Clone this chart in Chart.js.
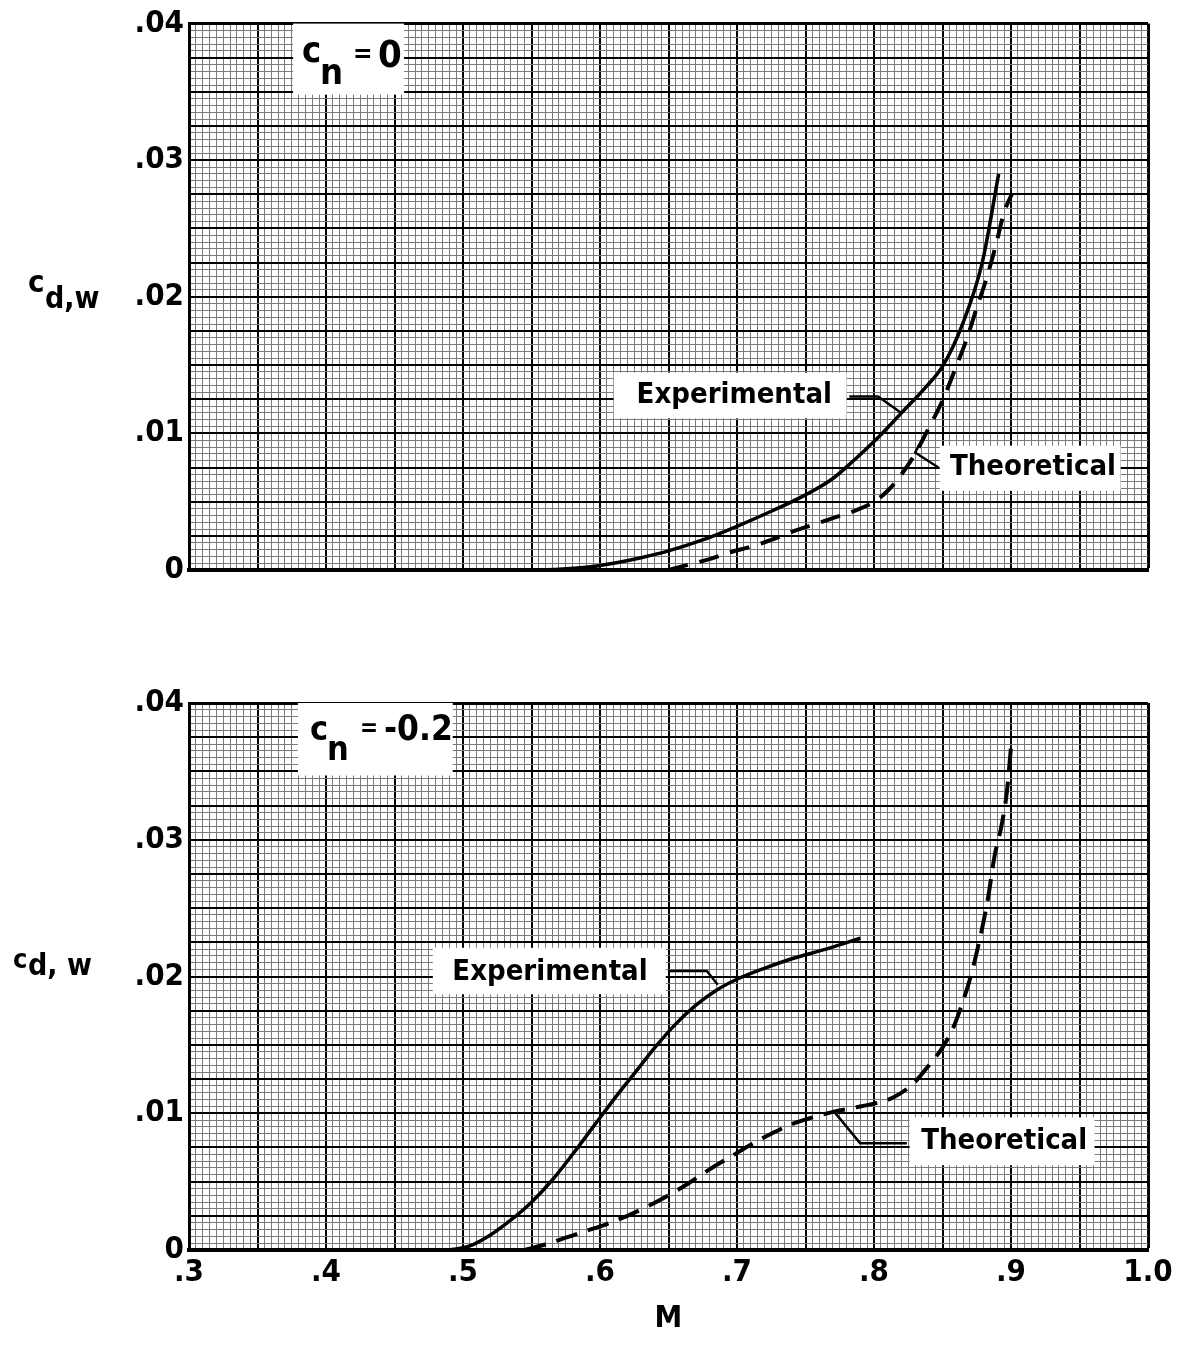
<!DOCTYPE html>
<html><head><meta charset="utf-8">
<script src="https://cdn.jsdelivr.net/npm/chart.js@4/dist/chart.umd.min.js"></script>
<style>
html,body{margin:0;padding:0;background:#fff;}
#wrap{position:relative;width:1180px;height:1354px;overflow:hidden;}
canvas{position:absolute;left:0;}
</style></head><body>
<div id="wrap">
<canvas id="cTop" width="1180" height="640" style="top:0px"></canvas>
<canvas id="cBot" width="1180" height="714" style="top:640px"></canvas>
</div>
<script>
const FONT = '"Liberation Sans Narrow","DejaVu Sans Condensed","Arial Narrow",sans-serif';
const W = 'bold ';

// ---- tick labels ----
const xTickLabels = ['.3', '.4', '.5', '.6', '.7', '.8', '.9', '1.0'];
const yTickLabels = ['0', '.01', '.02', '.03', '.04'];

// ---- top panel (c_n = 0) ----
const topExpM  = [0.55, 0.57, 0.59, 0.61, 0.63, 0.65, 0.675, 0.70, 0.725, 0.75, 0.77, 0.785, 0.803, 0.821, 0.837, 0.85, 0.865, 0.879, 0.891];
const topExpC  = [0, 0.00005, 0.0002, 0.0005, 0.0009, 0.0014, 0.0022, 0.0032, 0.0043, 0.0055, 0.0067, 0.0080, 0.0097, 0.0116, 0.0133, 0.0149, 0.0181, 0.0225, 0.0290];
const topTheoM = [0.65, 0.665, 0.68, 0.695, 0.71, 0.725, 0.74, 0.755, 0.77, 0.785, 0.80, 0.81, 0.82, 0.83, 0.84, 0.85, 0.86, 0.868, 0.875, 0.882, 0.889, 0.895, 0.901];
const topTheoC = [0, 0.0004, 0.0008, 0.0013, 0.0017, 0.0022, 0.0028, 0.0033, 0.0038, 0.0043, 0.0050, 0.0058, 0.0070, 0.0085, 0.0104, 0.0124, 0.0149, 0.0170, 0.0192, 0.0213, 0.0238, 0.0262, 0.0276];

// ---- bottom panel (c_n = -0.2) ----
const botExpM  = [0.49, 0.505, 0.52, 0.535, 0.55, 0.565, 0.58, 0.595, 0.61, 0.625, 0.64, 0.655, 0.67, 0.685, 0.70, 0.72, 0.74, 0.765, 0.79];
const botExpC  = [0, 0.0003, 0.0011, 0.0022, 0.0035, 0.0051, 0.0070, 0.0090, 0.0110, 0.0129, 0.0148, 0.0165, 0.0179, 0.0190, 0.0198, 0.0206, 0.0213, 0.0220, 0.0228];
const botTheoM = [0.545, 0.56, 0.575, 0.59, 0.605, 0.62, 0.635, 0.65, 0.665, 0.68, 0.695, 0.71, 0.725, 0.74, 0.755, 0.77, 0.785, 0.80, 0.815, 0.83, 0.84, 0.85, 0.858, 0.865, 0.87, 0.876, 0.883, 0.888, 0.893, 0.897, 0.90];
const botTheoC = [0, 0.0004, 0.0009, 0.0014, 0.0019, 0.0025, 0.0032, 0.0040, 0.0049, 0.0059, 0.0068, 0.0077, 0.0085, 0.0092, 0.0097, 0.0101, 0.0104, 0.0107, 0.0112, 0.0123, 0.0135, 0.0148, 0.0163, 0.0182, 0.0198, 0.0222, 0.0256, 0.0288, 0.0310, 0.0335, 0.0368];

function pts(xs, ys) { return xs.map((x, i) => ({x: x, y: ys[i]})); }
function isMult(v, s) { const q = v / s; return Math.abs(q - Math.round(q)) < 1e-6; }

const notesPlugin = {
  id: 'notes',
  beforeDatasetsDraw(chart, args, o) {
    const ctx = chart.ctx, xs = chart.scales.x, ys = chart.scales.y;
    ctx.save();
    ctx.fillStyle = '#fff';
    (o.boxes || []).forEach(b => {
      const x1 = xs.getPixelForValue(b.x0), x2 = xs.getPixelForValue(b.x1);
      const y1 = ys.getPixelForValue(b.y1), y2 = ys.getPixelForValue(b.y0);
      ctx.fillRect(x1, y1, x2 - x1, y2 - y1);
    });
    ctx.restore();
  },
  afterDatasetsDraw(chart, args, o) {
    const ctx = chart.ctx, xs = chart.scales.x, ys = chart.scales.y, ca = chart.chartArea;
    ctx.save();
    ctx.fillStyle = '#000';
    ctx.strokeStyle = '#000';
    ctx.lineWidth = 2.5;
    ctx.lineJoin = 'round';
    (o.leaders || []).forEach(l => {
      ctx.beginPath();
      l.forEach((p, i) => {
        const X = xs.getPixelForValue(p[0]), Y = ys.getPixelForValue(p[1]);
        if (i === 0) ctx.moveTo(X, Y); else ctx.lineTo(X, Y);
      });
      ctx.stroke();
    });
    ctx.textAlign = 'center';
    ctx.textBaseline = 'middle';
    (o.labels || []).forEach(t => {
      ctx.font = W + t.size + 'px ' + FONT;
      ctx.fillText(t.text, xs.getPixelForValue(t.x), ys.getPixelForValue(t.y));
    });
    ctx.textAlign = 'left';
    ctx.textBaseline = 'alphabetic';
    (o.rich || []).forEach(r => {
      let X0, Y0;
      if (r.px) { X0 = ca.left + r.px[0]; Y0 = ca.top + r.px[1]; }
      else { X0 = xs.getPixelForValue(r.x); Y0 = ys.getPixelForValue(r.y); }
      r.parts.forEach(p => {
        ctx.font = W + p.size + 'px ' + FONT;
        ctx.fillText(p.t, X0 + p.dx, Y0 + p.dy);
      });
    });
    ctx.restore();
  }
};

function makeChart(id, exp, theo, dash, notes, showX) {
  return new Chart(document.getElementById(id), {
    type: 'line',
    data: {
      datasets: [
        {data: exp, borderColor: '#000', borderWidth: 3.5, pointRadius: 0, fill: false, cubicInterpolationMode: 'monotone'},
        {data: theo, borderColor: '#000', borderWidth: 4, borderDash: dash, pointRadius: 0, fill: false, cubicInterpolationMode: 'monotone'}
      ]
    },
    options: {
      responsive: false, animation: false, devicePixelRatio: 1,
      layout: {padding: {left: 0, right: 32, top: showX ? 63 : 22, bottom: 0}},
      plugins: {legend: {display: false}, tooltip: {enabled: false}, notes: notes},
      scales: {
        x: {
          type: 'linear', min: 0.3, max: 1.0,
          afterFit: s => { s.height = showX ? 104 : 70; },
          border: {display: true, color: '#000', width: 4},
          grid: {
            drawTicks: false,
            color: c => isMult(c.tick.value, 0.05) ? '#000' : '#7a7a7a',
            lineWidth: c => Math.abs(c.tick.value - 1) < 1e-9 ? 3 : (isMult(c.tick.value, 0.05) ? 2 : 1)
          },
          ticks: {
            stepSize: 0.005, autoSkip: false, maxRotation: 0, minRotation: 0, padding: 4,
            color: '#000', font: {family: FONT, size: 31, weight: 'bold'},
            callback: v => (showX && isMult(v - 0.3, 0.1)) ? xTickLabels[Math.round((v - 0.3) * 10)] : ''
          },
          title: {display: showX, text: 'M', color: '#000', font: {family: FONT, size: 31, weight: 'bold'}, padding: {top: 0, bottom: 16}}
        },
        y: {
          type: 'linear', min: 0, max: 0.04,
          afterFit: s => { s.width = 189; },
          border: {display: true, color: '#000', width: 3},
          grid: {
            drawTicks: false,
            color: c => isMult(c.tick.value, 0.0025) ? '#000' : '#7a7a7a',
            lineWidth: c => Math.abs(c.tick.value - 0.04) < 1e-9 ? 3 : (isMult(c.tick.value, 0.0025) ? 2 : 1)
          },
          ticks: {
            stepSize: 0.0005, autoSkip: false, padding: 5,
            color: '#000', font: {family: FONT, size: 31, weight: 'bold'},
            callback: v => isMult(v, 0.01) ? yTickLabels[Math.round(v * 100)] : ''
          }
        }
      }
    },
    plugins: [notesPlugin]
  });
}

const topNotes = {
  boxes: [
    {x0: 0.376, x1: 0.457, y0: 0.0348, y1: 0.04},
    {x0: 0.61, x1: 0.78, y0: 0.0111, y1: 0.01445},
    {x0: 0.848, x1: 0.98, y0: 0.0058, y1: 0.0091}
  ],
  labels: [
    {text: 'Experimental', x: 0.698, y: 0.0128, size: 29},
    {text: 'Theoretical', x: 0.916, y: 0.0075, size: 29}
  ],
  leaders: [
    [[0.782, 0.0127], [0.803, 0.0127], [0.82, 0.0115]],
    [[0.837, 0.0099], [0.83, 0.0086], [0.847, 0.0075]]
  ],
  rich: [
    {x: 0.3825, y: 0.0372, parts: [
      {t: 'c', dx: 0, dy: 0, size: 36}, {t: 'n', dx: 18, dy: 22, size: 36},
      {t: '=', dx: 51, dy: 0, size: 26}, {t: '0', dx: 76, dy: 5, size: 38}]},
    {px: [-161, 268], parts: [
      {t: 'c', dx: 0, dy: 0, size: 31}, {t: 'd,w', dx: 17, dy: 16, size: 30}]}
  ]
};

const botNotes = {
  boxes: [
    {x0: 0.3795, x1: 0.4925, y0: 0.0347, y1: 0.04},
    {x0: 0.478, x1: 0.648, y0: 0.0187, y1: 0.0221},
    {x0: 0.826, x1: 0.961, y0: 0.0062, y1: 0.0097}
  ],
  labels: [
    {text: 'Experimental', x: 0.5635, y: 0.0203, size: 29},
    {text: 'Theoretical', x: 0.895, y: 0.0079, size: 29}
  ],
  leaders: [
    [[0.65, 0.0204], [0.678, 0.0204], [0.686, 0.0194]],
    [[0.771, 0.0101], [0.79, 0.0078], [0.824, 0.0078]]
  ],
  rich: [
    {x: 0.3883, y: 0.0373, parts: [
      {t: 'c', dx: 0, dy: 0, size: 34}, {t: 'n', dx: 17, dy: 20, size: 34},
      {t: '=', dx: 50, dy: -4, size: 24}, {t: '-0.2', dx: 74, dy: 0, size: 35}]},
    {px: [-176, 265], parts: [
      {t: 'c', dx: 0, dy: 0, size: 27}, {t: 'd, w', dx: 15, dy: 7, size: 30}]}
  ]
};

makeChart('cTop', pts(topExpM, topExpC), pts(topTheoM, topTheoC), [20, 12], topNotes, false);
makeChart('cBot', pts(botExpM, botExpC), pts(botTheoM, botTheoC), [22, 11], botNotes, true);
</script>
</body></html>
